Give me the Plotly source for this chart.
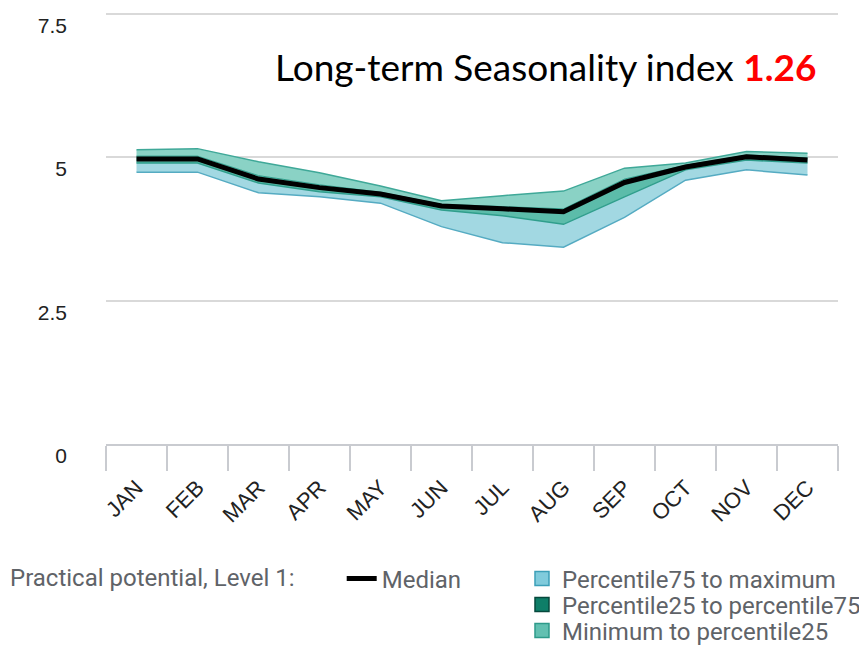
import plotly.graph_objects as go

months = ["JAN", "FEB", "MAR", "APR", "MAY", "JUN", "JUL", "AUG", "SEP", "OCT", "NOV", "DEC"]
top_edge = [5.13, 5.15, 4.92, 4.73, 4.50, 4.24, 4.33, 4.41, 4.81, 4.90, 5.10, 5.07]
upper_mid = [5.02, 5.02, 4.68, 4.52, 4.39, 4.18, 4.14, 4.10, 4.62, 4.86, 5.04, 4.99]
median = [4.97, 4.97, 4.62, 4.47, 4.36, 4.15, 4.10, 4.05, 4.56, 4.83, 5.01, 4.95]
lower_mid = [4.90, 4.90, 4.55, 4.40, 4.31, 4.08, 3.98, 3.83, 4.31, 4.78, 4.95, 4.90]
bottom_edge = [4.74, 4.74, 4.38, 4.31, 4.20, 3.79, 3.51, 3.43, 3.95, 4.60, 4.78, 4.69]

y_ticks = [0, 2.5, 5, 7.5]
y_ticktext = ["0", "2.5", "5", "7.5"]
legend_bands = ["Percentile75 to maximum", "Percentile25 to percentile75", "Minimum to percentile25"]
index_value = "1.26"

fig = go.Figure()

# bottom edge of light blue band
fig.add_trace(go.Scatter(x=months, y=bottom_edge, mode="lines",
                         line=dict(color="#55abc2", width=1.5), showlegend=False, hoverinfo="skip"))
# light blue band
fig.add_trace(go.Scatter(x=months, y=lower_mid, mode="lines", fill="tonexty",
                         fillcolor="#a2d8e2", line=dict(color="#2f9e8c", width=1.5),
                         showlegend=False, hoverinfo="skip"))
# middle band
fig.add_trace(go.Scatter(x=months, y=upper_mid, mode="lines", fill="tonexty",
                         fillcolor="#5cbcaa", line=dict(color="#2f9e8c", width=1),
                         showlegend=False, hoverinfo="skip"))
# upper teal band
fig.add_trace(go.Scatter(x=months, y=top_edge, mode="lines", fill="tonexty",
                         fillcolor="#8ad2c5", line=dict(color="#3fa898", width=1.5),
                         showlegend=False, hoverinfo="skip"))
# median
fig.add_trace(go.Scatter(x=months, y=median, mode="lines", name="Median",
                         line=dict(color="#000000", width=5), legend="legend"))

band_colors = ["#80cbdc", "#0e7e68", "#62c0b1"]
band_borders = ["#3c9fb8", "#06483c", "#2e9a8a"]
band_legends = ["legend2", "legend3", "legend4"]
for name, c, b, lg in zip(legend_bands, band_colors, band_borders, band_legends):
    fig.add_trace(go.Scatter(x=[None], y=[None], mode="markers", name=name,
                             marker=dict(symbol="square", size=14, color=c, line=dict(color=b, width=1.5)),
                             legend=lg))

fig.add_annotation(xref="paper", yref="paper", x=0.601, y=0.8707, showarrow=False,
                   text="Long-term Seasonality index <b><span style='color:#ff0000'>" + index_value + "</span></b>",
                   font=dict(family="Lato", size=37, color="#000000"), xanchor="center", yanchor="middle")

fig.add_annotation(xref="paper", yref="paper", x=-0.134, y=-0.3095, showarrow=False,
                   text="Practical potential, Level 1:", xanchor="left", yanchor="middle",
                   font=dict(family="Roboto", size=24, color="#5f6368"))

leg_font = dict(family="Roboto", size=24, color="#5f6368")
row_y = [-0.2598, -0.3199, -0.3799]
leg_x_med = 0.322
leg_x_band = 0.5683
fig.update_layout(
    width=859, height=637,
    margin=dict(l=98, r=29, t=3, b=201, autoexpand=False),
    paper_bgcolor="white", plot_bgcolor="white",
    showlegend=True,
    legend=dict(orientation="h", x=leg_x_med, y=row_y[0], xanchor="left", yanchor="top",
                font=leg_font, bgcolor="rgba(0,0,0,0)"),
    legend2=dict(orientation="v", x=leg_x_band, y=row_y[0], xanchor="left", yanchor="top",
                 font=leg_font, bgcolor="rgba(0,0,0,0)"),
    legend3=dict(orientation="v", x=leg_x_band, y=row_y[1], xanchor="left", yanchor="top",
                 font=leg_font, bgcolor="rgba(0,0,0,0)"),
    legend4=dict(orientation="v", x=leg_x_band, y=row_y[2], xanchor="left", yanchor="top",
                 font=leg_font, bgcolor="rgba(0,0,0,0)"),
)

fig.update_xaxes(type="category", tickson="boundaries", ticks="outside", ticklen=25, tickwidth=2,
                 tickcolor="#c9cbd0", showline=True, linecolor="#c9cbd0", linewidth=2,
                 showgrid=False, tickangle=-45, range=[-0.5, 11.5], automargin=False,
                 ticklabelstandoff=20,
                 tickfont=dict(family="Liberation Sans", size=22, color="#222222"))
fig.update_yaxes(range=[0, 7.55], tickvals=y_ticks, ticktext=y_ticktext, showgrid=True,
                 gridcolor="#d9d9d9", gridwidth=2, zeroline=False, showline=False, ticks="",
                 ticklabelposition="outside bottom", ticklabelstandoff=38, ticklabelshift=-3,
                 automargin=False,
                 tickfont=dict(family="Liberation Sans", size=21, color="#222222"))

fig.write_html("out.html")
